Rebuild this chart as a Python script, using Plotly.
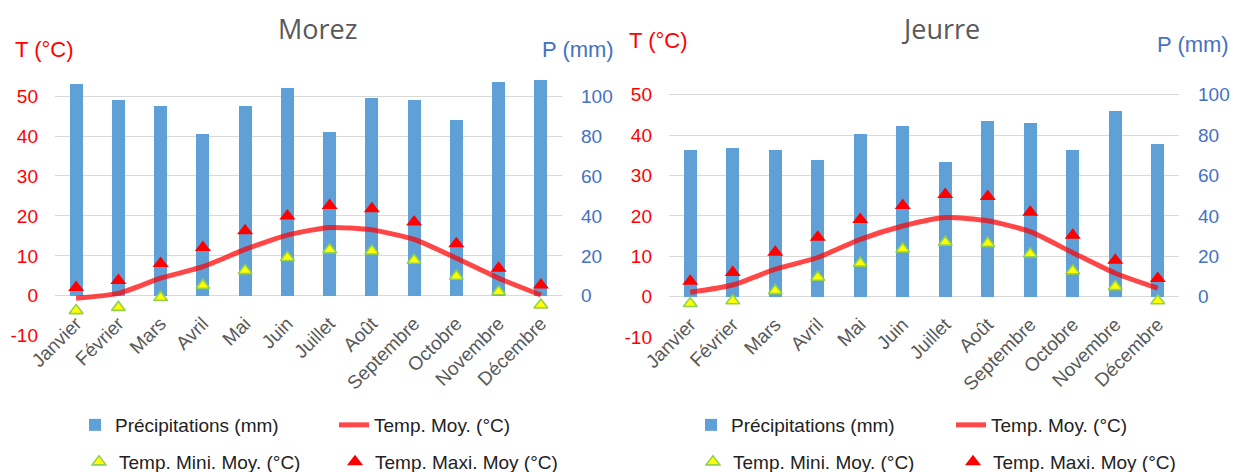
import plotly.graph_objects as go

months = ["Janvier", "Février", "Mars", "Avril", "Mai", "Juin", "Juillet",
          "Août", "Septembre", "Octobre", "Novembre", "Décembre"]

# Morez
morez_precip = [106, 98, 95, 81, 95, 104, 82, 99, 98, 88, 107, 108]
morez_tmoy = [-0.6, 0.6, 4.4, 7.3, 11.6, 15.2, 17.1, 16.5, 14.1, 9.4, 4.4, 0.2]
morez_tmin = [-3.7, -2.9, -0.4, 2.6, 6.3, 9.6, 11.5, 11.2, 8.9, 4.9, 1.0, -2.3]
morez_tmax = [2.1, 3.8, 8.1, 12.1, 16.3, 20.0, 22.6, 21.8, 18.5, 13.0, 6.9, 2.7]

# Jeurre
jeurre_precip = [73, 74, 73, 68, 81, 85, 67, 87, 86, 73, 92, 76]
jeurre_tmoy = [1.1, 2.9, 6.8, 9.7, 14.2, 17.5, 19.6, 18.8, 16.1, 10.9, 5.8, 2.1]
jeurre_tmin = [-1.7, -1.0, 1.5, 4.8, 8.3, 11.8, 13.5, 13.2, 10.6, 6.4, 2.5, -1.0]
jeurre_tmax = [3.8, 6.0, 11.0, 14.7, 19.1, 22.6, 25.3, 24.8, 20.9, 15.2, 9.0, 4.5]

t_ticks = [-10, 0, 10, 20, 30, 40, 50]
p_ticks = [0, 20, 40, 60, 80, 100]

W, H = 1235, 472
BAR = "#5FA0D7"
LINE = "rgba(255,0,0,0.72)"
GRID = "#D9D9D9"
TXT = "#595959"
TCOL = "#FF0000"
PCOL = "#4472C4"
FONT = "Liberation Sans, Arial, sans-serif"

def px(x):
    return x / W

def py(y):
    return 1 - y / H

fig = go.Figure()

charts = [
    dict(name="Morez", precip=morez_precip, tmoy=morez_tmoy, tmin=morez_tmin, tmax=morez_tmax,
         xd=(55, 562), zero=295.8, k=3.995, tmax_r=56, xa="x", pa="y", ta="y2",
         legs=["legend", "legend2", "legend3", "legend4"],
         title_x=317, tlab=(13, 49), plab=(540, 49), leg_x=(115, 374, 119, 375)),
    dict(name="Jeurre", precip=jeurre_precip, tmoy=jeurre_tmoy, tmin=jeurre_tmin, tmax=jeurre_tmax,
         xd=(669, 1179), zero=296.7, k=4.04, tmax_r=55, xa="x2", pa="y3", ta="y4",
         legs=["legend5", "legend6", "legend7", "legend8"],
         title_x=941, tlab=(627, 41), plab=(1155, 45), leg_x=(731, 991, 733, 993)),
]

annotations = []
layout_axes = {}
legends = {}

for c in charts:
    fig.add_trace(go.Bar(x=months, y=c["precip"], name="Précipitations (mm)",
                         marker=dict(color=BAR, line=dict(width=0)), width=0.31,
                         xaxis=c["xa"], yaxis=c["pa"], legend=c["legs"][0]))
    fig.add_trace(go.Scatter(x=months, y=c["tmoy"], name="Temp. Moy. (°C)", mode="lines",
                             line=dict(color=LINE, width=5, shape="spline", smoothing=0.6),
                             xaxis=c["xa"], yaxis=c["ta"], legend=c["legs"][1]))
    fig.add_trace(go.Scatter(x=months, y=c["tmin"], name="Temp. Mini. Moy. (°C)", mode="markers",
                             marker=dict(symbol="triangle-up", size=12, color="#FFFF00",
                                         line=dict(color="#92D050", width=1.6)),
                             xaxis=c["xa"], yaxis=c["ta"], legend=c["legs"][2]))
    fig.add_trace(go.Scatter(x=months, y=c["tmax"], name="Temp. Maxi. Moy (°C)", mode="markers",
                             marker=dict(symbol="triangle-up", size=14, color="#FF0000",
                                         line=dict(width=0)),
                             xaxis=c["xa"], yaxis=c["ta"], legend=c["legs"][3]))

    bottom = c["zero"] + 10 * c["k"]
    top = c["zero"] - c["tmax_r"] * c["k"]
    ydom = [py(bottom), py(top)]
    xdom = [px(c["xd"][0]), px(c["xd"][1])]
    xkey = "xaxis" if c["xa"] == "x" else "xaxis2"
    pkey = "yaxis" + c["pa"][1:]
    tkey = "yaxis" + c["ta"][1:]
    layout_axes[xkey] = dict(domain=xdom, anchor="free", position=py(c["zero"] + 12),
                             type="category", range=[-0.5, 11.5], showgrid=False,
                             showline=False, zeroline=False, ticks="", tickangle=-45,
                             automargin=False,
                             tickfont=dict(size=19, color=TXT, family=FONT))
    layout_axes[pkey] = dict(domain=ydom, anchor=c["xa"], side="right",
                             range=[-20, 2 * c["tmax_r"]], tickvals=p_ticks,
                             showgrid=False, zeroline=False, showline=False,
                             ticklabelstandoff=18, automargin=False,
                             tickfont=dict(size=19, color=PCOL, family=FONT))
    layout_axes[tkey] = dict(domain=ydom, anchor=c["xa"], side="left", overlaying=c["pa"],
                             range=[-10, c["tmax_r"]], tickvals=t_ticks,
                             ticktext=[str(v) for v in t_ticks],
                             showgrid=True, gridcolor=GRID, gridwidth=1.3,
                             zeroline=False, showline=False, ticklabelstandoff=16,
                             automargin=False,
                             tickfont=dict(size=19, color=TCOL, family=FONT))

    annotations.append(dict(text=c["name"], x=px(c["title_x"]), y=py(29), xref="paper", yref="paper",
                            xanchor="center", yanchor="middle", showarrow=False,
                            font=dict(size=27, color=TXT, family="Open Sans, sans-serif")))
    annotations.append(dict(text="T (°C)", x=px(c["tlab"][0]), y=py(c["tlab"][1]), xref="paper",
                            yref="paper", xanchor="left", yanchor="middle", showarrow=False,
                            font=dict(size=22, color=TCOL, family=FONT)))
    annotations.append(dict(text="P (mm)", x=px(c["plab"][0]), y=py(c["plab"][1]), xref="paper",
                            yref="paper", xanchor="left", yanchor="middle", showarrow=False,
                            font=dict(size=22, color=PCOL, family=FONT)))

    ys = [425, 425, 462, 462]
    for leg, tx, yy in zip(c["legs"], c["leg_x"], ys):
        legends[leg] = dict(x=px(tx - 40), y=py(yy), xanchor="left", yanchor="middle",
                            orientation="h", bgcolor="rgba(0,0,0,0)",
                            font=dict(size=19, color="#222222", family=FONT))

fig.update_layout(
    width=W, height=H,
    margin=dict(l=0, r=0, t=0, b=0, autoexpand=False),
    paper_bgcolor="white", plot_bgcolor="rgba(0,0,0,0)",
    showlegend=True,
    bargap=0,
    annotations=annotations,
    **layout_axes,
    **legends,
)

fig.write_html("out.html")
